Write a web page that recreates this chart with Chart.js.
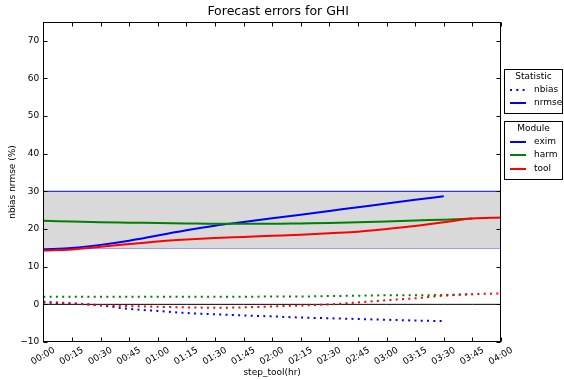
<!DOCTYPE html>
<html>
<head>
<meta charset="utf-8">
<script src="https://cdn.jsdelivr.net/npm/chart.js@4.4.1/dist/chart.umd.min.js"></script>
<style>
  html, body { margin: 0; padding: 0; background: #fff; }
  #wrap { position: relative; width: 564px; height: 380px; }
</style>
</head>
<body>
<div id="wrap"><canvas id="c" width="564" height="380"></canvas></div>
<script>
// Forecast horizon steps (tick labels)
const stepLabels = ['00:00','00:15','00:30','00:45','01:00','01:15','01:30','01:45','02:00',
                    '02:15','02:30','02:45','03:00','03:15','03:30','03:45','04:00'];

// nrmse (%) per module
const eximNrmse = [14.6, 15.0, 15.8, 16.9, 18.3, 19.7, 20.9, 21.9, 22.9, 23.8, 24.8, 25.8, 26.8, 27.8, 28.7];
const harmNrmse = [22.2, 22.0, 21.8, 21.7, 21.6, 21.5, 21.4, 21.4, 21.4, 21.5, 21.6, 21.8, 22.0, 22.3, 22.5, 22.8];
const toolNrmse = [14.3, 14.6, 15.3, 16.0, 16.7, 17.2, 17.6, 17.9, 18.2, 18.5, 18.9, 19.3, 20.0, 20.8, 21.8, 22.8, 23.1];

// nbias (%) per module
const eximNbias = [0.5, 0.2, -0.3, -1.2, -1.75, -2.3, -2.65, -2.95, -3.2, -3.5, -3.7, -3.9, -4.1, -4.3, -4.45];
const harmNbias = [2.0, 2.0, 2.0, 2.0, 2.0, 2.0, 2.0, 2.0, 2.1, 2.1, 2.2, 2.3, 2.4, 2.4, 2.5, 2.7];
const toolNbias = [0.7, 0.3, -0.2, -0.45, -0.65, -0.8, -0.9, -0.8, -0.55, -0.3, 0.0, 0.5, 1.1, 1.6, 2.3, 2.7, 2.9];

// Reference band and zero line
const bandLow = 15;
const bandHigh = 30;
const zeroLevel = 0;

const yTicks = [-10, 0, 10, 20, 30, 40, 50, 60, 70];

const BLUE = '#0000ff', GREEN = '#008000', RED = '#ff0000';
const FONT = "'DejaVu Sans', sans-serif";

const flat = v => stepLabels.map(() => v);

function solid(label, data, color, order) {
  return { label, data, borderColor: color, borderWidth: 2, pointRadius: 0,
           cubicInterpolationMode: 'monotone', fill: false, order };
}
function dotted(label, data, color, order) {
  return { label, data, borderColor: color, borderWidth: 2, pointRadius: 0,
           borderDash: [2, 4.3], borderCapStyle: 'butt',
           cubicInterpolationMode: 'monotone', fill: false, order };
}

// Axes frame with inward ticks on all four sides
const framePlugin = {
  id: 'frame',
  afterDatasetsDraw(chart) {
    const { ctx, chartArea: a, scales: { x, y } } = chart;
    ctx.save();
    ctx.strokeStyle = '#000';
    ctx.lineWidth = 1;
    const L = Math.round(a.left) + 0.5, R = Math.round(a.right) - 0.5;
    const T = Math.round(a.top) + 0.5, B = Math.round(a.bottom) - 0.5;
    ctx.beginPath();
    x.ticks.forEach((t, i) => {
      const px = Math.round(x.getPixelForTick(i)) + 0.5;
      ctx.moveTo(px, B); ctx.lineTo(px, B - 4);
      ctx.moveTo(px, T); ctx.lineTo(px, T + 4);
    });
    y.ticks.forEach((t, i) => {
      const py = Math.round(y.getPixelForTick(i)) + 0.5;
      ctx.moveTo(L, py); ctx.lineTo(L + 4, py);
      ctx.moveTo(R, py); ctx.lineTo(R - 4, py);
    });
    ctx.stroke();
    ctx.strokeRect(L, T, R - L, B - T);
    ctx.restore();
  }
};

// Title centred over the plotting area
const titlePlugin = {
  id: 'axTitle',
  afterDraw(chart) {
    const { ctx, chartArea: a } = chart;
    ctx.save();
    ctx.font = `12.5px ${FONT}`;
    ctx.fillStyle = '#000';
    ctx.textAlign = 'center';
    ctx.textBaseline = 'middle';
    ctx.fillText('Forecast errors for GHI', (a.left + a.right) / 2 + 6, 12);
    ctx.restore();
  }
};

// Two legend boxes to the right of the axes
const legendPlugin = {
  id: 'sideLegends',
  afterDraw(chart) {
    const { ctx } = chart;
    const boxes = [
      { title: 'Statistic', top: 69, bottom: 113, items: [
        { text: 'nbias', color: BLUE, dash: [2, 4.3] },
        { text: 'nrmse', color: BLUE, dash: [] } ] },
      { title: 'Module', top: 121, bottom: 179, items: [
        { text: 'exim', color: BLUE, dash: [] },
        { text: 'harm', color: GREEN, dash: [] },
        { text: 'tool', color: RED, dash: [] } ] }
    ];
    const left = 504.5, right = 562.5;
    ctx.save();
    boxes.forEach(b => {
      ctx.fillStyle = '#fff';
      ctx.fillRect(left, b.top + 0.5, right - left, b.bottom - b.top);
      ctx.strokeStyle = '#000';
      ctx.lineWidth = 1;
      ctx.setLineDash([]);
      ctx.strokeRect(left, b.top + 0.5, right - left, b.bottom - b.top);
      ctx.font = `9px ${FONT}`;
      ctx.fillStyle = '#000';
      ctx.textBaseline = 'middle';
      ctx.textAlign = 'center';
      ctx.fillText(b.title, (left + right) / 2, b.top + 8);
      b.items.forEach((it, i) => {
        const yy = b.top + 20.5 + i * 13.5;
        ctx.strokeStyle = it.color;
        ctx.lineWidth = 2;
        ctx.setLineDash(it.dash);
        ctx.beginPath();
        ctx.moveTo(510, Math.round(yy));
        ctx.lineTo(526, Math.round(yy));
        ctx.stroke();
        ctx.setLineDash([]);
        ctx.textAlign = 'left';
        ctx.fillText(it.text, 534, yy);
      });
    });
    ctx.restore();
  }
};

new Chart(document.getElementById('c'), {
  type: 'line',
  data: {
    labels: stepLabels,
    datasets: [
      { label: 'band low', data: flat(bandLow), borderColor: '#3434ff', borderWidth: 1.2,
        pointRadius: 0, fill: false, order: 20 },
      { label: 'band high', data: flat(bandHigh), borderColor: '#3434ff', borderWidth: 1.2,
        pointRadius: 0, fill: '-1', backgroundColor: '#d9d9d9', order: 19 },
      { label: 'zero', data: flat(zeroLevel), borderColor: '#000', borderWidth: 1,
        pointRadius: 0, fill: false, order: 18 },
      dotted('exim nbias', eximNbias, BLUE, 9),
      solid('exim nrmse', eximNrmse, BLUE, 8),
      dotted('harm nbias', harmNbias, GREEN, 7),
      solid('harm nrmse', harmNrmse, GREEN, 6),
      dotted('tool nbias', toolNbias, RED, 5),
      solid('tool nrmse', toolNrmse, RED, 4)
    ]
  },
  options: {
    responsive: false,
    animation: false,
    layout: { padding: { top: 22, right: 63, left: 0, bottom: 0 } },
    plugins: { legend: { display: false }, tooltip: { enabled: false }, title: { display: false } },
    scales: {
      x: {
        type: 'category',
        offset: false,
        grid: { display: false, drawTicks: false },
        border: { display: false },
        ticks: {
          autoSkip: false, minRotation: 30, maxRotation: 30,
          labelOffset: 11, padding: 3,
          color: '#000', font: { family: FONT, size: 9 }
        },
        title: { display: true, text: 'step_tool(hr)', color: '#000',
                 font: { family: FONT, size: 9 }, padding: { top: 0, bottom: 2 } },
        afterFit(scale) { scale.height = 38; }
      },
      y: {
        min: -10, max: 75,
        grid: { display: false, drawTicks: false },
        border: { display: false },
        afterBuildTicks(scale) { scale.ticks = yTicks.map(v => ({ value: v })); },
        ticks: {
          color: '#000', font: { family: FONT, size: 9 }, padding: 4,
          callback: v => (v < 0 ? '\u2212' + Math.abs(v) : String(v))
        },
        title: { display: true, text: 'nbias nrmse (%)', color: '#000',
                 font: { family: FONT, size: 9 }, padding: { top: 7, bottom: 0 } },
        afterFit(scale) { scale.width = 43.3; }
      }
    }
  },
  plugins: [framePlugin, titlePlugin, legendPlugin]
});
</script>
</body>
</html>
